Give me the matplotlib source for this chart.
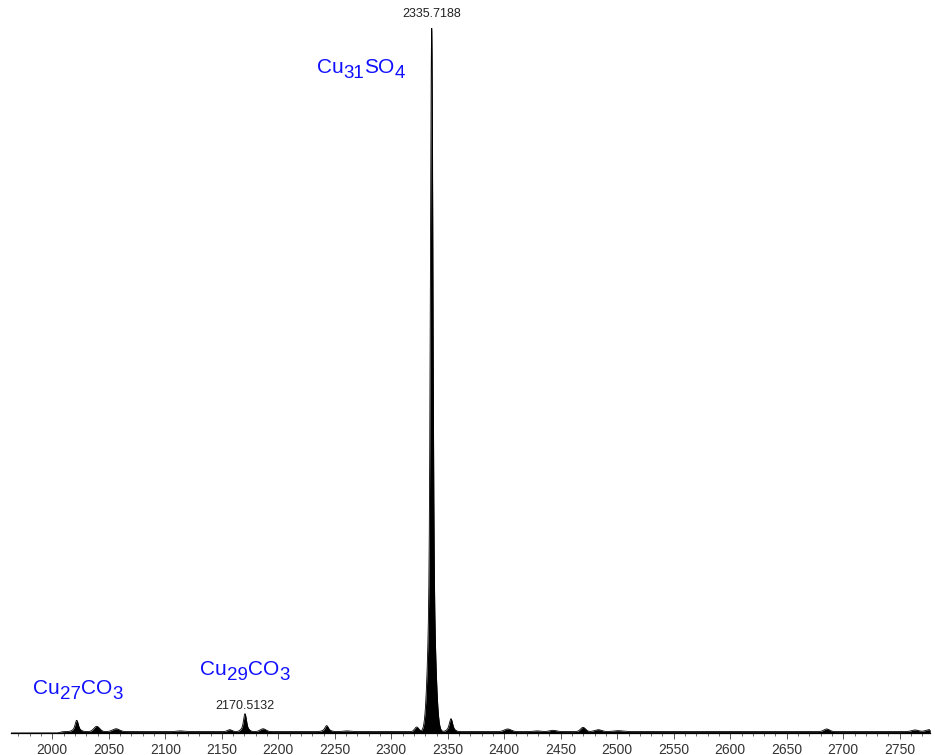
import numpy as np
import matplotlib
matplotlib.use('Agg')
import matplotlib.pyplot as plt
from matplotlib.ticker import MultipleLocator

plt.rcParams['font.family'] = ['Liberation Sans', 'DejaVu Sans']

# peak list: centre (m/z), relative intensity (%), gaussian width (m/z)
peak_mz = [2021.6, 2021.6, 2039.3, 2056.4, 2113.0, 2157.0, 2170.5132, 2170.5132,
           2186.5, 2242.8, 2242.8, 2260.5, 2322.5, 2335.7188, 2335.7188,
           2352.8, 2352.8, 2403.0, 2428.8, 2443.0, 2469.7, 2483.0, 2500.6,
           2685.3, 2763.5, 2776.0]
peak_int = [1.05, 0.55, 0.75, 0.40, 0.10, 0.27, 1.70, 0.84,
            0.40, 0.55, 0.30, 0.10, 0.65, 75.0, 25.0,
            1.15, 0.68, 0.37, 0.10, 0.18, 0.60, 0.27, 0.13,
            0.37, 0.23, 0.27]
peak_sigma = [1.2, 2.8, 2.5, 3.0, 3.0, 2.0, 1.1, 2.6,
              2.5, 1.3, 3.0, 3.0, 1.8, 1.04, 2.77,
              1.2, 2.6, 3.0, 3.0, 3.0, 2.2, 3.0, 4.0,
              2.5, 3.0, 3.0]

# chemical noise floor
noise_start = 2007.0
noise_level = 0.2

labelled_mz = [2335.7188, 2170.5132]
labelled_y = [102.0, 3.8]

formulas = [
    [('Cu', False), ('31', True), ('SO', False), ('4', True)],
    [('Cu', False), ('27', True), ('CO', False), ('3', True)],
    [('Cu', False), ('29', True), ('CO', False), ('3', True)],
]
formula_x = [2234.0, 1983.2, 2130.7]
formula_y = [93.6, 5.5, 8.2]

mz = np.arange(1963.0, 2777.0, 0.05)
intensity = noise_level * 0.5 * (1 + np.tanh((mz - noise_start) / 2.0))
for c, h, s in zip(peak_mz, peak_int, peak_sigma):
    intensity += h * np.exp(-0.5 * ((mz - c) / s) ** 2)

fig = plt.figure(figsize=(9.35, 7.55), dpi=100)
ax = fig.add_axes([10.5 / 935, 22 / 755, 919.8 / 935, 705 / 755])

ax.fill_between(mz, 0, intensity, color='black', lw=0)
ax.plot(mz, intensity, color='black', lw=0.6)

ax.set_xlim(1963, 2777)
ax.set_ylim(0, 100)
for side in ['left', 'top', 'right']:
    ax.spines[side].set_visible(False)
ax.spines['bottom'].set_linewidth(0.9)
ax.set_yticks([])
ax.xaxis.set_major_locator(MultipleLocator(50))
ax.xaxis.set_minor_locator(MultipleLocator(10))
ax.tick_params(axis='x', which='major', length=4.5, width=0.7, color='#555555',
               labelsize=10, labelcolor='#333333', pad=2.5)
ax.tick_params(axis='x', which='minor', length=2.2, width=0.6, color='#555555')

for m, y in zip(labelled_mz, labelled_y):
    ax.text(m, y, '%.4f' % m, ha='center', va='center', fontsize=9,
            color='#222222', clip_on=False)


def draw_formula(ax, x, y, parts, size=15, sub_size=13.5, color='#1010ff'):
    first = prev = None
    for txt, sub in parts:
        if prev is None:
            t = ax.text(x, y, txt, fontsize=size, color=color,
                        ha='left', va='baseline')
            first = t
        else:
            t = ax.annotate(txt, xy=(1, 0), xycoords=(prev, first),
                            xytext=(0, -3.6 if sub else 0),
                            textcoords='offset points',
                            fontsize=sub_size if sub else size, color=color,
                            ha='left', va='bottom')
        prev = t


for parts, x, y in zip(formulas, formula_x, formula_y):
    draw_formula(ax, x, y, parts)

fig.savefig('out.png', dpi=100)
